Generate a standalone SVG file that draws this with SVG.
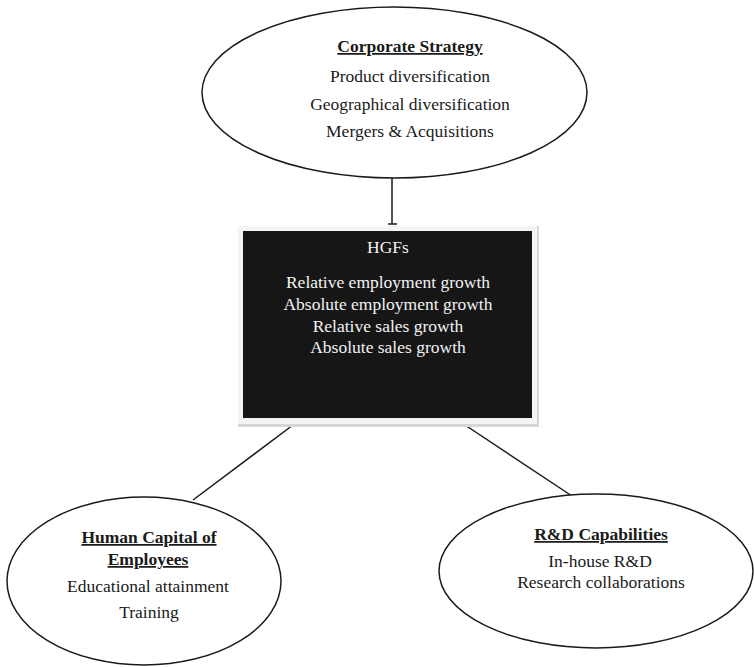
<svg xmlns="http://www.w3.org/2000/svg" width="754" height="667" viewBox="0 0 754 667">
<style>
.oval{fill:#fff;stroke:#1a1a1a;stroke-width:1.5}
.conn{stroke:#1a1a1a;stroke-width:1.5;fill:none}
text{font-family:"Liberation Serif","Times New Roman",serif;font-size:17.5px;text-anchor:middle;fill:#1a1a1a}
.h{font-weight:bold;text-decoration:underline}
.w{fill:#f2f2f2}
</style>
<rect width="754" height="667" fill="#fff"/>
<g id="connectors">
<line class="conn" x1="392" y1="178" x2="392" y2="224"/>
<line class="conn" x1="388" y1="224" x2="397" y2="224"/>
<line class="conn" x1="293" y1="425" x2="193" y2="500"/>
<line class="conn" x1="465" y1="425" x2="572" y2="496"/>
</g>
<g id="corporate-strategy">
<ellipse class="oval" cx="394.5" cy="92.5" rx="192.5" ry="85.5"/>
<text class="h" x="410" y="52">Corporate Strategy</text>
<text x="410" y="82">Product diversification</text>
<text x="410" y="110">Geographical diversification</text>
<text x="410" y="137">Mergers &amp; Acquisitions</text>
</g>
<g id="hgfs">
<rect x="238" y="226" width="301" height="201" fill="#d6d6d6"/>
<rect x="238" y="226" width="299" height="198" fill="#f4f4f4"/>
<rect x="243" y="231" width="289" height="187" fill="#161616"/>
<text class="w" x="388" y="253">HGFs</text>
<text class="w" x="388" y="288">Relative employment growth</text>
<text class="w" x="388" y="310">Absolute employment growth</text>
<text class="w" x="388" y="332">Relative sales growth</text>
<text class="w" x="388" y="353">Absolute sales growth</text>
</g>
<g id="human-capital">
<ellipse class="oval" cx="144" cy="581" rx="137" ry="84"/>
<text class="h" x="149" y="543">Human Capital of</text>
<text class="h" x="148" y="565">Employees</text>
<text x="148" y="592">Educational attainment</text>
<text x="149" y="618">Training</text>
</g>
<g id="rd-capabilities">
<ellipse class="oval" cx="596" cy="571" rx="157" ry="77"/>
<text class="h" x="601" y="540">R&amp;D Capabilities</text>
<text x="600" y="567">In-house R&amp;D</text>
<text x="601" y="588">Research collaborations</text>
</g>
</svg>
